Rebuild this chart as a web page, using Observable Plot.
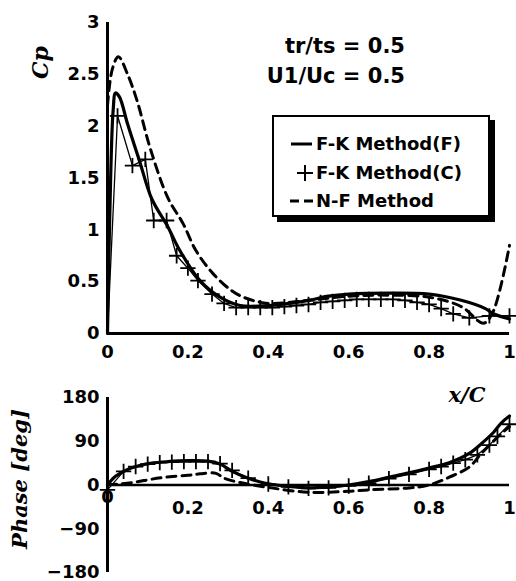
<!DOCTYPE html>
<html><head><meta charset="utf-8">
<script src="https://cdn.jsdelivr.net/npm/d3@7"></script>
<script src="https://cdn.jsdelivr.net/npm/@observablehq/plot@0.6"></script>
<style>
body{margin:0;background:#fff;}
#wrap{position:relative;width:516px;height:581px;overflow:hidden;background:#fff;}
#topdiv,#botdiv{position:absolute;left:0;}
#topdiv{top:0;} #botdiv{top:370px;}
#legend{position:absolute;left:272px;top:115px;width:214px;height:98px;border:2px solid #000;box-shadow:5px 5px 0 #000;background:#fff;font-family:"DejaVu Sans",sans-serif;font-weight:bold;font-size:18px;}
.row{position:absolute;left:0;height:22px;line-height:22px;}
.row span{position:absolute;left:42px;white-space:nowrap;}
.row svg{position:absolute;left:14px;top:0;}
</style></head><body><div id="wrap"><div id="topdiv"></div><div id="botdiv"></div>
<div id="legend">
 <div class="row" style="top:16px"><svg width="30" height="22"><line x1="3" y1="11" x2="24" y2="11" stroke="#000" stroke-width="3"/></svg><span>F-K Method(F)</span></div>
 <div class="row" style="top:45px"><svg width="30" height="22"><line x1="9" y1="11" x2="25" y2="11" stroke="#000" stroke-width="2"/><line x1="17" y1="3" x2="17" y2="19" stroke="#000" stroke-width="2"/></svg><span>F-K Method(C)</span></div>
 <div class="row" style="top:73px"><svg width="30" height="22"><line x1="2" y1="11" x2="28" y2="11" stroke="#000" stroke-width="3" stroke-dasharray="9,5"/></svg><span>N-F Method</span></div>
</div>
</div>
<script>
// ---------- data: Cp ----------
const cpFx = [0, 0.006, 0.014, 0.02, 0.03, 0.05, 0.08, 0.11, 0.15, 0.18, 0.23, 0.28, 0.33, 0.4, 0.45, 0.5, 0.55, 0.6, 0.7, 0.8, 0.88, 0.94, 0.96, 1.0];
const cpF  = [0, 1.2, 2.15, 2.32, 2.28, 2.02, 1.66, 1.3, 1.03, 0.8, 0.51, 0.35, 0.27, 0.27, 0.29, 0.32, 0.36, 0.38, 0.39, 0.38, 0.32, 0.24, 0.19, 0.14];
const cpCx = [0, 0.025, 0.062, 0.094, 0.115, 0.147, 0.172, 0.2, 0.225, 0.26, 0.29, 0.32, 0.35, 0.38, 0.41, 0.44, 0.47, 0.5, 0.53, 0.56, 0.59, 0.62, 0.65, 0.68, 0.71, 0.74, 0.77, 0.8, 0.83, 0.86, 0.9, 0.95, 1.0];
const cpC  = [0, 2.1, 1.62, 1.68, 1.09, 1.09, 0.75, 0.63, 0.51, 0.38, 0.29, 0.25, 0.25, 0.25, 0.25, 0.26, 0.27, 0.28, 0.3, 0.31, 0.32, 0.33, 0.33, 0.33, 0.33, 0.32, 0.3, 0.28, 0.24, 0.19, 0.15, 0.17, 0.17];
const cpNx = [0, 0.012, 0.027, 0.05, 0.074, 0.106, 0.15, 0.188, 0.22, 0.262, 0.31, 0.345, 0.4, 0.5, 0.6, 0.7, 0.8, 0.88, 0.935, 0.958, 1.0];
const cpN  = [2.2, 2.55, 2.67, 2.5, 2.24, 1.79, 1.31, 1.06, 0.8, 0.58, 0.41, 0.34, 0.29, 0.32, 0.36, 0.37, 0.35, 0.26, 0.1, 0.2, 0.85];
// ---------- data: Phase ----------
const phFx = [0, 0.02, 0.05, 0.08, 0.11, 0.15, 0.2, 0.25, 0.28, 0.31, 0.35, 0.39, 0.45, 0.5, 0.55, 0.6, 0.65, 0.7, 0.75, 0.8, 0.85, 0.9, 0.93, 0.96, 0.98, 1.0];
const phF  = [0, 18, 32, 40, 45, 48, 50, 49, 43, 28, 14, 4, -3, -6, -4, 0, 7, 16, 25, 35, 46, 65, 85, 108, 128, 142];
const phCx = [0, 0.04, 0.07, 0.1, 0.13, 0.16, 0.19, 0.22, 0.25, 0.28, 0.31, 0.35, 0.4, 0.45, 0.5, 0.55, 0.6, 0.65, 0.7, 0.75, 0.8, 0.83, 0.86, 0.89, 0.92, 0.95, 0.97, 1.0];
const phC  = [-10, 28, 38, 43, 46, 47, 48, 48, 48, 44, 30, 14, 2, -4, -7, -6, -2, 4, 13, 22, 32, 38, 45, 52, 62, 82, 100, 125];
const phNx = [0, 0.03, 0.07, 0.11, 0.155, 0.2, 0.23, 0.27, 0.29, 0.33, 0.4, 0.5, 0.6, 0.65, 0.75, 0.8, 0.85, 0.9, 0.93, 0.98, 1.0];
const phN  = [0, 2, 6, 12, 17, 20, 23, 24, 14, 5, -5, -15, -13, -10, -6, 0, 16, 37, 65, 106, 120];
// ---------- ticks / labels ----------
const xTicks = [0, 0.2, 0.4, 0.6, 0.8, 1];
const xTicksPhase = [0.2, 0.4, 0.6, 0.8, 1];
const cpTicks = [0, 0.5, 1, 1.5, 2, 2.5, 3];
const phTicks = [-180, -90, 0, 90, 180];
const annot = ["tr/ts = 0.5", "U1/Uc = 0.5"];

const zip = (xs, ys) => xs.map((x, i) => ({x, y: ys[i]}));
const tickFont = "DejaVu Sans, sans-serif";
const serif = "DejaVu Serif, serif";
const fmt = d => String(d).replace("-", "\u2212");

const topPlot = Plot.plot({
  width: 516, height: 370,
  marginLeft: 107, marginRight: 7, marginTop: 22, marginBottom: 37,
  style: {fontFamily: tickFont, fontSize: "18px", fontWeight: "bold", background: "transparent", color: "#000", overflow: "visible"},
  x: {domain: [0, 1], ticks: xTicks, tickFormat: fmt, tickSize: 0, tickPadding: 12, label: null},
  y: {domain: [0, 3], ticks: cpTicks, tickFormat: fmt, tickSize: 0, tickPadding: 8, label: null},
  marks: [
    Plot.ruleX([0], {y1: 0, y2: 3, stroke: "#000", strokeWidth: 3}),
    Plot.ruleY([0], {x1: 0, x2: 1, stroke: "#000", strokeWidth: 3}),
    Plot.line(zip(cpNx, cpN), {x: "x", y: "y", stroke: "#000", strokeWidth: 3, strokeDasharray: "9,6", curve: "catmull-rom"}),
    Plot.line(zip(cpCx, cpC), {x: "x", y: "y", stroke: "#000", strokeWidth: 1.3}),
    Plot.dot(zip(cpCx, cpC).slice(1), {x: "x", y: "y", symbol: "plus", r: 5, stroke: "#000", strokeWidth: 1.8}),
    Plot.line(zip(cpFx, cpF), {x: "x", y: "y", stroke: "#000", strokeWidth: 3.2, curve: "catmull-rom"}),
    Plot.text([annot[0]], {x: 0.74, y: 2.77, text: d => d, textAnchor: "end", fontSize: 21, fontWeight: "bold", fontFamily: tickFont}),
    Plot.text([annot[1]], {x: 0.74, y: 2.48, text: d => d, textAnchor: "end", fontSize: 21, fontWeight: "bold", fontFamily: tickFont}),
    Plot.text(["Cp"], {frameAnchor: "top-left", dx: -67, dy: 40, textAnchor: "middle", lineAnchor: "middle", text: d => d, rotate: -90, fontSize: 22, fontStyle: "italic", fontWeight: "bold", fontFamily: serif})
  ]
});
document.getElementById("topdiv").append(topPlot);

const botPlot = Plot.plot({
  width: 516, height: 211,
  marginLeft: 107, marginRight: 7, marginTop: 27, marginBottom: 9,
  style: {fontFamily: tickFont, fontSize: "18px", fontWeight: "bold", background: "transparent", color: "#000", overflow: "visible"},
  x: {domain: [0, 1], axis: null},
  y: {domain: [-180, 180], ticks: phTicks, tickFormat: fmt, tickSize: 0, tickPadding: 8, label: null},
  marks: [
    Plot.ruleX([0], {y1: -180, y2: 180, stroke: "#000", strokeWidth: 3}),
    Plot.ruleY([0], {x1: 0, x2: 1, stroke: "#000", strokeWidth: 2.5}),
    Plot.text(xTicksPhase, {x: d => d, y: 0, dy: 23, text: fmt, fontSize: 18, fontWeight: "bold", fontFamily: tickFont}),
    Plot.text([0], {x: d => d, y: 0, dy: 12, text: fmt, fontSize: 18, fontWeight: "bold", fontFamily: tickFont}),
    Plot.line(zip(phNx, phN), {x: "x", y: "y", stroke: "#000", strokeWidth: 3, strokeDasharray: "9,6", curve: "catmull-rom"}),
    Plot.line(zip(phCx, phC), {x: "x", y: "y", stroke: "#000", strokeWidth: 1.3}),
    Plot.dot(zip(phCx, phC), {x: "x", y: "y", symbol: "plus", r: 5, stroke: "#000", strokeWidth: 1.8}),
    Plot.line(zip(phFx, phF), {x: "x", y: "y", stroke: "#000", strokeWidth: 3.2, curve: "catmull-rom"}),
    Plot.text(["x/C"], {frameAnchor: "top-right", dx: -24, dy: -2, textAnchor: "end", lineAnchor: "middle", text: d => d, fontSize: 21, fontStyle: "italic", fontWeight: "bold", fontFamily: serif}),
    Plot.text(["Phase [deg]"], {frameAnchor: "left", dx: -87, dy: -6, textAnchor: "middle", lineAnchor: "middle", text: d => d, rotate: -90, fontSize: 21, fontStyle: "italic", fontWeight: "bold", fontFamily: serif})
  ]
});
document.getElementById("botdiv").append(botPlot);
</script>
</body></html>
